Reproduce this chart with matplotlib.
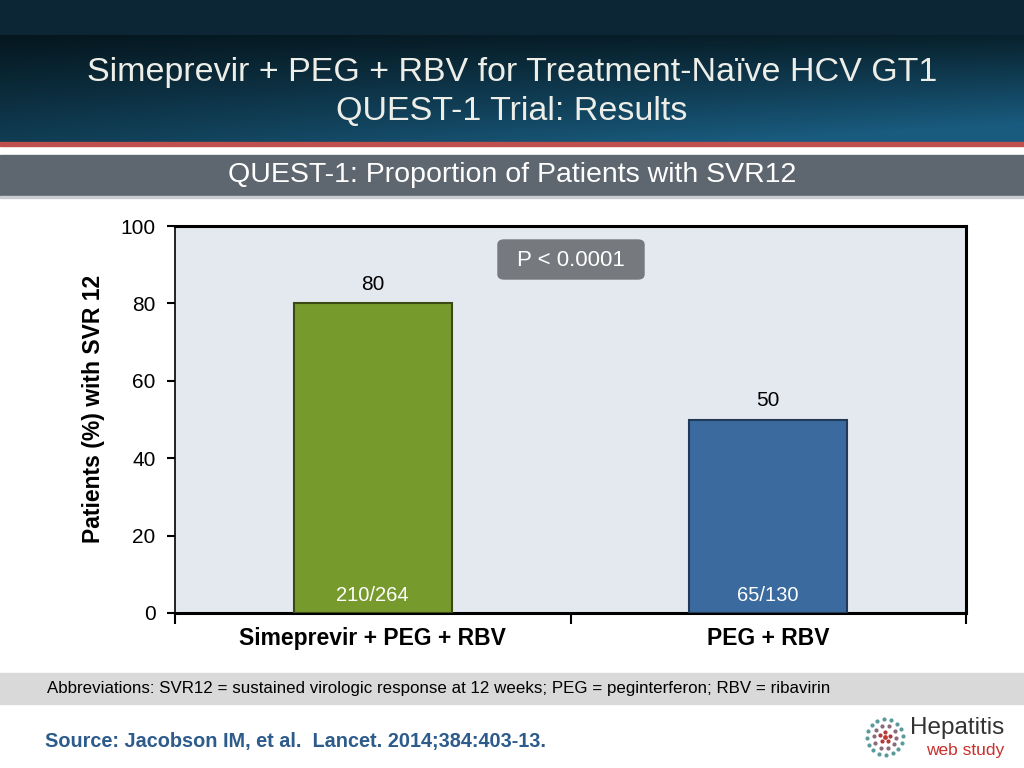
import numpy as np
import matplotlib
matplotlib.use('Agg')
import matplotlib.pyplot as plt
from matplotlib.patches import Rectangle, FancyBboxPatch

plt.rcParams['font.family'] = ['Liberation Sans', 'DejaVu Sans']

# data
groups = ['Simeprevir + PEG + RBV', 'PEG + RBV']
svr12 = [80, 50]
counts = ['210/264', '65/130']
bar_colors = ['#779a2d', '#3b6a9f']
edge_colors = ['#3a4a15', '#213a58']
yticks = [0, 20, 40, 60, 80, 100]
pvalue = 'P < 0.0001'

W, H = 1024, 768
fig = plt.figure(figsize=(W / 100, H / 100), dpi=100)
fig.patch.set_facecolor('white')

def fy(px):
    # pixel row from top -> figure fraction
    return 1 - px / H

# header background (gradient)
hdr = fig.add_axes([0, fy(142), 1, 142 / H])
hdr.set_axis_off()
gx = np.linspace(0, 1, 256)
gy = np.linspace(0, 1, 107)
X, Y = np.meshgrid(gx, gy)
t = np.clip(0.55 * Y + 0.45 * X * Y + 0.15 * X, 0, 1)
c0 = np.array([0.02, 0.09, 0.12])
c1 = np.array([0.10, 0.36, 0.50])
img = c0[None, None, :] * (1 - t[..., None]) + c1[None, None, :] * t[..., None]
top = np.ones((35, 256, 3)) * np.array([0.05, 0.15, 0.21])
hdr.imshow(np.concatenate([top, img], axis=0), aspect='auto', extent=[0, 1, 0, 1])
hdr.set_xlim(0, 1)
hdr.set_ylim(0, 1)

fig.patches.append(Rectangle((0, fy(146)), 1, 4 / H, transform=fig.transFigure,
                             color='#c0504d', zorder=2))
fig.patches.append(Rectangle((0, fy(196)), 1, 41 / H, transform=fig.transFigure,
                             color='#5e6670', zorder=2))
fig.patches.append(Rectangle((0, fy(198)), 1, 2 / H, transform=fig.transFigure,
                             color='#c8ccd1', zorder=2))
fig.patches.append(Rectangle((0, fy(704)), 1, 31 / H, transform=fig.transFigure,
                             color='#d9d9d9', zorder=2))

fig.text(0.5, fy(72), 'Simeprevir + PEG + RBV for Treatment-Naïve HCV GT1',
         ha='center', va='center', fontsize=24.5, color='#eeeee8', zorder=5)
fig.text(0.5, fy(111), 'QUEST-1 Trial: Results',
         ha='center', va='center', fontsize=24.5, color='#eeeee8', zorder=5)
fig.text(0.5, fy(175), 'QUEST-1: Proportion of Patients with SVR12',
         ha='center', va='center', fontsize=20.5, color='white', zorder=5)

# chart
ax = fig.add_axes([175 / W, fy(613), (966 - 175) / W, (613 - 226) / H])
ax.set_facecolor('#e4e8ef')
x = np.arange(len(groups))
bars = ax.bar(x, svr12, width=0.40, color=bar_colors, edgecolor=edge_colors,
              linewidth=1.5, zorder=3)
for b, v, c in zip(bars, svr12, counts):
    cx = b.get_x() + b.get_width() / 2
    ax.text(cx, v + 2.5, str(v), ha='center', va='bottom', fontsize=15, color='black')
    ax.text(cx, 4.5, c, ha='center', va='center', fontsize=14.5, color='white', zorder=4)

ax.set_xlim(-0.5, 1.5)
ax.set_ylim(0, 100)
ax.set_yticks(yticks)
ax.set_yticklabels([str(v) for v in yticks], fontsize=15)
ax.set_xticks(x)
ax.set_xticklabels(groups, fontsize=16.5, fontweight='bold')
ax.set_xticks([-0.5, 0.5, 1.5], minor=True)
ax.tick_params(axis='x', which='major', length=0, pad=10)
ax.tick_params(axis='x', which='minor', length=8, width=1.5, direction='out')
ax.tick_params(axis='y', length=6, width=1.5, direction='out', pad=8)
ax.set_ylabel('Patients (%) with SVR 12', fontsize=16.5, fontweight='bold')
ax.yaxis.set_label_coords(-0.088, 0.528)
for s in ['left']:
    ax.spines[s].set_linewidth(1.2)
for s in ['top', 'right', 'bottom']:
    ax.spines[s].set_linewidth(2.2)

# p-value box
fig.patches.append(FancyBboxPatch((498 / W, fy(279)), 146 / W, 39 / H,
                                  boxstyle='round,pad=0,rounding_size=0.006',
                                  transform=fig.transFigure, color='#76797d', zorder=6))
fig.text(571 / W, fy(261), pvalue, ha='center', va='center', fontsize=16,
         color='white', zorder=7)

# footer
fig.text(47 / W, fy(689), 'Abbreviations: SVR12 = sustained virologic response at 12 weeks; '
         'PEG = peginterferon; RBV = ribavirin', ha='left', va='center',
         fontsize=12.2, color='black', zorder=5)
fig.text(45 / W, fy(742), 'Source: Jacobson IM, et al.  Lancet. 2014;384:403-13.',
         ha='left', va='center', fontsize=14.3, fontweight='bold', color='#2d5b8c')

# logo
lg = fig.add_axes([862 / W, fy(760), 46 / W, 46 / H])
lg.set_axis_off()
lg.set_xlim(-1.1, 1.1)
lg.set_ylim(-1.1, 1.1)
ring_r = [0.25, 0.55, 0.85]
ring_n = [5, 10, 16]
ring_c = ['#b03a3a', '#8a6a7a', '#5a9a9a']
for r, n, c in zip(ring_r, ring_n, ring_c):
    a = np.linspace(0, 2 * np.pi, n, endpoint=False) + r
    lg.scatter(r * np.cos(a), r * np.sin(a), s=4, color=c)
lg.scatter([0], [0], s=6, color='#c0392b')
fig.text(910 / W, fy(728), 'Hepatitis', ha='left', va='center', fontsize=17.5, color='#333333')
fig.text(926 / W, fy(750), 'web study', ha='left', va='center', fontsize=12.5, color='#c9302c')

fig.savefig('out.png', dpi=100)
